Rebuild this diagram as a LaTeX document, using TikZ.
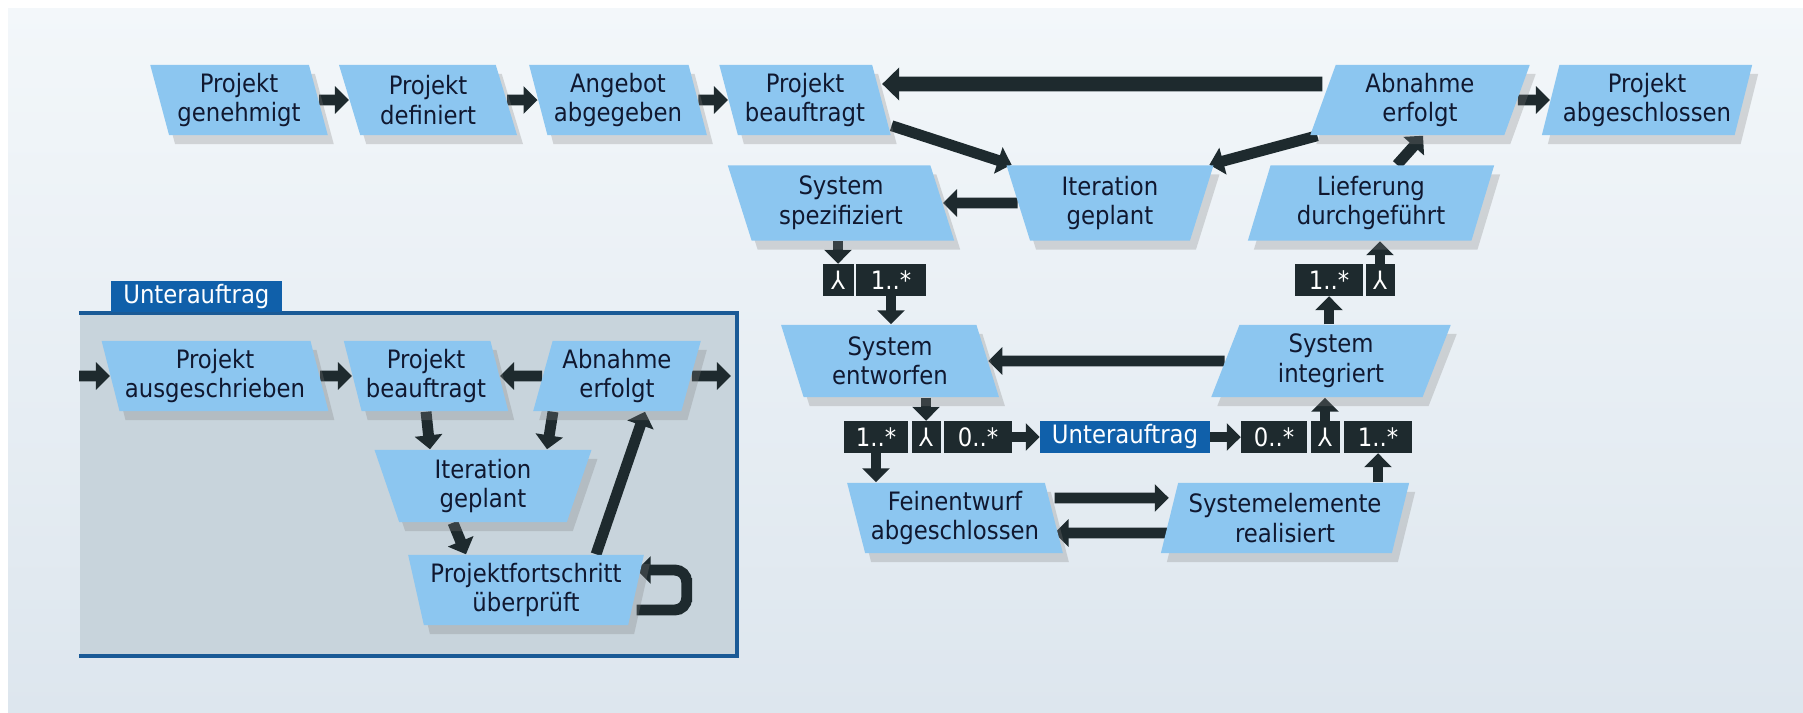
\documentclass[tikz,border=0pt]{standalone}
\usepackage{fontspec}
\setmainfont{DejaVu Sans Condensed}
\usetikzlibrary{shapes.geometric,arrows.meta,shadows,backgrounds}

\definecolor{boxblue}{RGB}{140,198,240}
\definecolor{arrowgray}{RGB}{30,42,46}
\definecolor{tagblue}{RGB}{16,96,170}
\definecolor{framefill}{RGB}{200,212,220}
\definecolor{frameline}{RGB}{26,90,150}
\definecolor{inkblue}{RGB}{16,24,48}

\tikzset{
  gate/.style={trapezium, trapezium stretches=true, fill=boxblue, text=inkblue,
    align=center, inner xsep=1pt, inner ysep=1pt, minimum height=0.7cm,
    font=\fontsize{7.2}{8.4}\selectfont,
    drop shadow={shadow xshift=0.06cm, shadow yshift=-0.09cm, opacity=0.28}},
  lean left/.style={gate, trapezium left angle=106, trapezium right angle=74},
  lean right/.style={gate, trapezium left angle=74, trapezium right angle=106},
  funnel/.style={gate, trapezium left angle=104, trapezium right angle=104},
  mult/.style={fill=arrowgray, text=white, minimum height=0.31cm, inner sep=0pt,
    font=\fontsize{7.2}{8.4}\selectfont},
  subtag/.style={fill=tagblue, text=white, minimum height=0.31cm, inner sep=0pt,
    font=\fontsize{7.2}{8.4}\selectfont},
  flow/.style={draw=arrowgray, line width=3.1pt, -{Triangle[length=0.14cm,width=0.27cm]}},
  bigflow/.style={flow, line width=4.2pt, -{Triangle[length=0.17cm,width=0.32cm]}}
}

\begin{document}
\begin{tikzpicture}[x=0.01cm, y=-0.01cm]
  \useasboundingbox (0,0) rectangle (1803,712);

  % Top row
  \node[lean left, minimum width=1.78cm] (pgen) at (239,100) {Projekt\\genehmigt};
  \node[lean left, minimum width=1.78cm] (pdef) at (428,100) {Projekt\\definiert};
  \node[lean left, minimum width=1.78cm] (aabg) at (618,100) {Angebot\\abgegeben};
  \node[lean left, minimum width=1.72cm] (pbea) at (805,100) {Projekt\\beauftragt};
  \node[lean right, minimum width=2.2cm] (aerf) at (1420,100) {Abnahme\\erfolgt};
  \node[lean right, minimum width=2.0cm] (pabg) at (1647,100) {Projekt\\abgeschlossen};

  % Second row
  \node[lean left, minimum width=2.27cm, minimum height=0.75cm] (sspe) at (841,203) {System\\spezifiziert};
  \node[funnel, minimum width=2.07cm, minimum height=0.75cm] (iter) at (1110,203) {Iteration\\geplant};
  \node[lean right, minimum width=2.47cm, minimum height=0.75cm] (lief) at (1371,203) {Lieferung\\durchgeführt};

  % Multiplicities, upper
  \node[mult, minimum width=0.31cm] (lamA) at (838,280) {⅄};
  \node[mult, minimum width=0.69cm] (mulA) at (891,280) {1..*};
  \node[mult, minimum width=0.67cm] (mulB) at (1329,280) {1..*};
  \node[mult, minimum width=0.29cm] (lamB) at (1380,280) {⅄};

  % Fourth row
  \node[lean left, minimum width=2.18cm, minimum height=0.72cm] (sent) at (890,361) {System\\entworfen};
  \node[lean right, minimum width=2.4cm, minimum height=0.72cm] (sint) at (1331,361) {System\\integriert};

  % Multiplicities, lower
  \node[mult, minimum width=0.63cm] (mulC) at (876,437) {1..*};
  \node[mult, minimum width=0.29cm] (lamC) at (926,437) {⅄};
  \node[mult, minimum width=0.67cm] (mulD) at (978,437) {0..*};
  \node[subtag, minimum width=1.69cm] (usub) at (1125,437) {Unterauftrag};
  \node[mult, minimum width=0.65cm] (mulE) at (1274,437) {0..*};
  \node[mult, minimum width=0.29cm] (lamD) at (1325,437) {⅄};
  \node[mult, minimum width=0.67cm] (mulF) at (1378,437) {1..*};

  % Bottom row
  \node[lean left, minimum width=2.16cm] (fein) at (955,518) {Feinentwurf\\abgeschlossen};
  \node[lean right, minimum width=2.49cm] (sreal) at (1285,518) {Systemelemente\\realisiert};

  % Subcontract group
  \node[lean left, minimum width=2.27cm] (uaus) at (215,376) {Projekt\\ausgeschrieben};
  \node[lean left, minimum width=1.65cm] (ubea) at (426,376) {Projekt\\beauftragt};
  \node[lean right, minimum width=1.68cm] (uerf) at (617,376) {Abnahme\\erfolgt};
  \node[funnel, minimum width=2.17cm, minimum height=0.72cm] (uite) at (483,486) {Iteration\\geplant};
  \node[funnel, minimum width=2.37cm] (ufor) at (526,590) {Projektfortschritt\\überprüft};

  \begin{scope}[on background layer]
    \fill[white] (0,0) rectangle (1803,712);
    \shade[top color={rgb,255:red,243;green,247;blue,250},
           bottom color={rgb,255:red,221;green,230;blue,238}] (8,8) rectangle (1803,712);

    % Subcontract frame
    \node[fill=framefill, minimum width=6.56cm, minimum height=3.41cm, inner sep=0pt] (uframe) at (408,484.5) {};
    \draw[frameline, line width=1.1pt] (uframe.north west) -- (uframe.north east)
      -- (uframe.south east) -- (uframe.south west);

    % Top row connectors
    \draw[flow] (pgen) -- (pdef);
    \draw[flow] (pdef) -- (aabg);
    \draw[flow] (aabg) -- (pbea);
    \draw[bigflow] ([yshift=0.16cm]aerf.west) -- ([yshift=0.16cm]pbea.east);
    \draw[flow] (aerf) -- (pabg);

    % Iteration loop
    \draw[flow] ([yshift=0.1cm]pbea.bottom right corner) -- ([xshift=0.06cm]iter.top left corner);
    \draw[flow] ([xshift=0.08cm]aerf.bottom left corner) -- ([xshift=-0.05cm]iter.top right corner);
    \draw[flow] ([xshift=0.26cm]lief.north) -- ([xshift=0.03cm]aerf.south);
    \draw[flow] (iter) -- (sspe);

    % Left and right leg
    \draw[flow] (sspe.south -| lamA) -- (lamA.north);
    \draw[flow] (mulA.south) -- (mulA |- sent.north);
    \draw[flow] (sint.north -| mulB) -- (mulB.south);
    \draw[flow] (lamB.north) -- (lamB |- lief.south);
    \draw[flow] (sint) -- (sent);
    \draw[flow] (sent.south -| lamC) -- (lamC.north);
    \draw[flow] (mulC.south) -- (mulC |- fein.north);
    \draw[flow] (mulD) -- (usub);
    \draw[flow] (usub) -- (mulE);
    \draw[flow] (lamD.north) -- (lamD |- sint.south);
    \draw[flow] (sreal.north -| mulF) -- (mulF.south);
    \draw[flow] ([yshift=0.2cm]fein.east) -- ([yshift=0.2cm]sreal.west);
    \draw[flow] ([yshift=-0.15cm]sreal.west) -- ([yshift=-0.15cm]fein.east);

    % Subcontract connectors
    \draw[flow] (uframe.west |- uaus) -- (uaus);
    \draw[flow] (uaus) -- (ubea);
    \draw[flow] (uerf) -- (ubea);
    \draw[flow, shorten >=0.06cm] (uerf) -- (uerf -| uframe.east);
    \draw[flow] (ubea.south) -- ([xshift=-0.53cm]uite.north);
    \draw[flow] ([xshift=-0.64cm]uerf.south) -- ([xshift=0.64cm]uite.north);
    \draw[flow] ([xshift=-0.3cm]uite.south) -- ([xshift=-0.6cm]ufor.north);
    \draw[flow] ([xshift=0.7cm]ufor.north) -- ([xshift=0.28cm]uerf.south);
    \draw[flow, rounded corners=0.12cm] ([yshift=-0.2cm]ufor.east) -| ([xshift=0.5cm]ufor.east)
      |- ([yshift=0.2cm]ufor.east);
  \end{scope}

  % Tab of the frame
  \node[subtag, minimum width=1.71cm, anchor=south west] (utab) at ([xshift=0.31cm]uframe.north west) {Unterauftrag};
\end{tikzpicture}
\end{document}
